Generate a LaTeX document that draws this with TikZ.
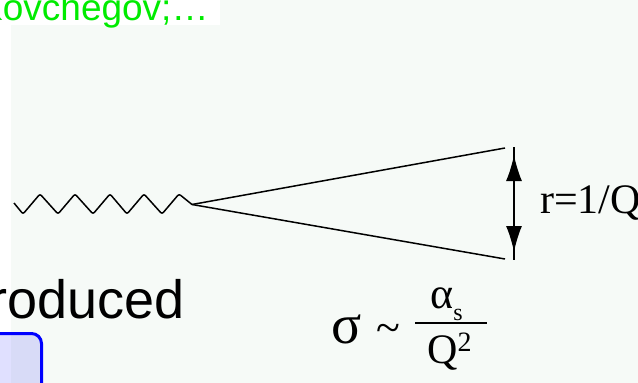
\documentclass[tikz,border=0pt]{standalone}
\usepackage{fontspec}
\setmainfont{Liberation Serif}
\newfontfamily\slidesans{Liberation Sans}
\usepackage{xcolor}
\definecolor{slidetint}{RGB}{246,250,247}
\definecolor{citegreen}{RGB}{0,235,0}
\usetikzlibrary{arrows.meta,positioning}

\begin{document}
\begin{tikzpicture}[x=1pt, y=-1pt,
  quark/.style={draw=black, line width=1.5pt},
  photon/.style={draw=black, line width=1.5pt, line join=round, rounded corners=2pt},
  dim/.style={{Latex[length=26pt,width=16pt]}-{Latex[length=26pt,width=16pt]}, line width=1.5pt},
  serif/.style={inner sep=0pt, anchor=base west, font=\fontsize{#1}{#1}\selectfont},
  cite/.style={inner sep=0pt, anchor=base west, text=citegreen, font=\slidesans\fontsize{37}{37}\selectfont},
  slide/.style={inner sep=0pt, anchor=base west, font=\slidesans\fontsize{54}{54}\selectfont},
  box/.style={rectangle, draw=blue, line width=3pt, fill=blue, fill opacity=0.12, rounded corners=10pt, minimum width=80pt, minimum height=80pt}
]
  \useasboundingbox (0,0) rectangle (638,383);
  \fill[white] (0,0) rectangle (638,383);
  \fill[slidetint] (11,0) rectangle (638,383);
  \fill[white] (0,0) rectangle (220,25);

  \node[cite] (kov) at (-22,20) {Kovchegov;…};
  \node[slide] (prod) at (-11,318) {roduced};
  \node[box] (panel) at (1.5,373.5) {};

  \coordinate (src) at (14,203);
  \coordinate (vtx) at (192,204.5);
  \coordinate (qtop) at (505,148);
  \coordinate (qbot) at (505,259);
  \draw[photon] (src) -- (23,214) -- (40,194) -- (58,214) -- (75,194) -- (93,214) -- (110,194)
    -- (127,214) -- (144,194) -- (162,214) -- (179,194) -- (vtx);
  \draw[quark] (vtx) -- (qtop);
  \draw[quark] (vtx) -- (qbot);

  \coordinate (rtop) at (514,147);
  \coordinate (rbot) at (514,260);
  \coordinate (tipa) at (514,155);
  \coordinate (tipb) at (514,252);
  \draw[quark] (rtop) -- (rbot);
  \draw[dim] (tipa) -- (tipb);
  \node[serif=42] (rlbl) at (540,213) {r=1/Q};

  \node[serif=56] (sig) at (331,343) {σ};
  \node[serif=44] (tld) at (376,342) {\textasciitilde};
  \node[serif=44] (num) at (430,308) {α\raisebox{-12pt}{\fontsize{24}{24}\selectfont s}};
  \node[serif=42] (den) at (427,363) {Q\raisebox{12pt}{\fontsize{28}{28}\selectfont 2}};
  \draw[quark] (415,323) -- (487,323);
\end{tikzpicture}
\end{document}
